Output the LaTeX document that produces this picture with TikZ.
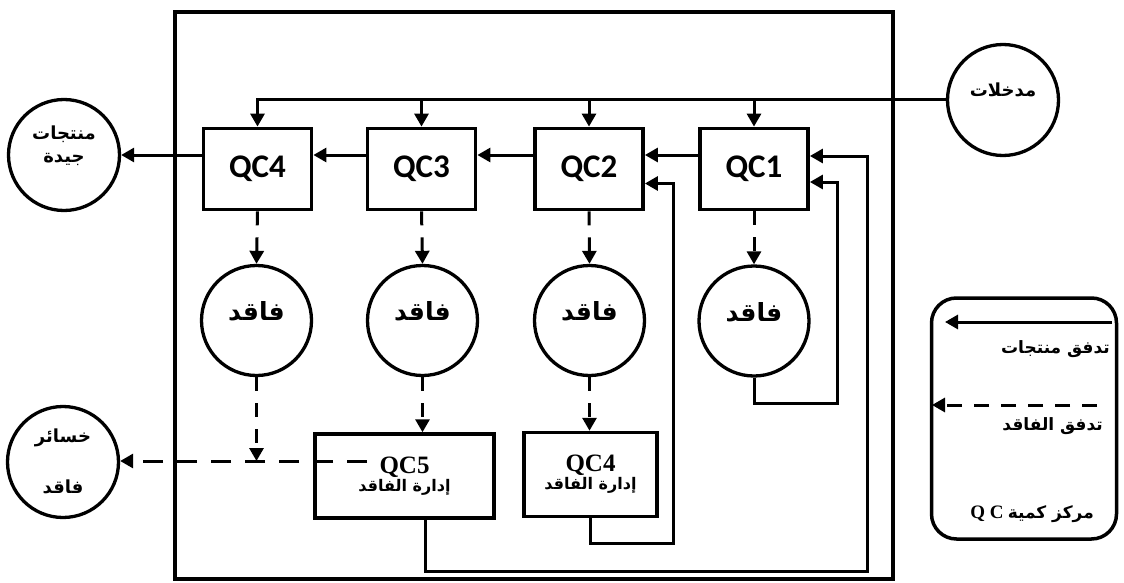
\documentclass[tikz,border=0pt]{standalone}
\usepackage{fontspec}
\setmainfont{Liberation Serif}
\newfontfamily\arabfont[Script=Arabic]{DejaVu Sans}
\newfontfamily\calibfont{Carlito}
\TeXXeTstate=1
\usetikzlibrary{arrows.meta}
\newcommand\artxt[1]{{\arabfont\bfseries\beginR #1\endR}}
\tikzset{
  qcbox/.style={draw, line width=3.8pt, minimum width=108pt, minimum height=81pt, inner sep=0pt,
    font=\calibfont\bfseries\fontsize{33}{33}\selectfont},
  faqc/.style={draw, circle, line width=3.3pt, minimum size=110pt, inner sep=0pt},
  bigc/.style={draw, circle, line width=3.3pt, minimum size=111pt, inner sep=0pt},
  mgbox/.style={draw, line width=3.5pt, minimum height=84pt, inner sep=0pt, align=center,
    font=\bfseries},
  ftxt/.style={inner sep=0pt, font=\fontsize{25}{25}\selectfont},
  ctxt/.style={inner sep=0pt, font=\fontsize{18}{18}\selectfont},
  ltxt/.style={inner sep=0pt, anchor=east, font=\fontsize{17}{17}\selectfont},
  conn/.style={line width=3pt},
  arr/.style={line width=3pt, -{Triangle[length=13pt,width=14pt]}},
  darr/.style={line width=3pt, dash pattern=on 14pt off 12pt, -{Triangle[length=13pt,width=14pt]}},
  hdarr/.style={line width=3pt, dash pattern=on 20pt off 14pt, -{Triangle[length=13pt,width=14pt]}},
  ldarr/.style={line width=3pt, dash pattern=on 15pt off 12pt, -{Triangle[length=13pt,width=14pt]}},
}
\begin{document}
\begin{tikzpicture}[x=1pt,y=-1pt]
\useasboundingbox (0,0) rectangle (1124,583);

% outer frame
\node[draw, line width=4.5pt, minimum width=718pt, minimum height=567pt, inner sep=0pt] (frame) at (534,295.5) {};

% QC boxes
\node[qcbox] (qc1) at (754,169) {QC1};
\node[qcbox] (qc2) at (589,169) {QC2};
\node[qcbox] (qc3) at (421.5,169) {QC3};
\node[qcbox] (qc4) at (257.5,169) {QC4};

% loss circles
\node[faqc] (f1) at (754,321) {};
\node[faqc] (f2) at (589.5,320.5) {};
\node[faqc] (f3) at (422.5,320.5) {};
\node[faqc] (f4) at (256.5,320.5) {};
\node[ftxt] (t1) at ([yshift=9pt]f1.center) {\artxt{فاقد}};
\node[ftxt] (t2) at ([yshift=9pt]f2.center) {\artxt{فاقد}};
\node[ftxt] (t3) at ([yshift=9pt]f3.center) {\artxt{فاقد}};
\node[ftxt] (t4) at ([yshift=9pt]f4.center) {\artxt{فاقد}};

% management boxes
\node[mgbox, minimum width=179pt] (mg5) at (404.5,476)
  {{\fontsize{25}{26}\selectfont QC5}\\[1pt]{\fontsize{16}{18}\selectfont\artxt{إدارة الفاقد}}};
\node[mgbox, minimum width=133pt] (mg4) at (590.5,474.5)
  {{\fontsize{25}{26}\selectfont QC4}\\[1pt]{\fontsize{16}{18}\selectfont\artxt{إدارة الفاقد}}};

% outer circles
\node[bigc] (in) at (1003,100) {};
\node[ctxt] (intxt) at ([yshift=10pt]in.center) {\artxt{مدخلات}};
\node[bigc] (good) at (64,155) {};
\node[ctxt, align=center] (goodtxt) at ([yshift=9pt]good.center)
  {\artxt{منتجات}\\[5pt]\artxt{جيدة}};
\node[bigc] (loss) at (63,462) {};
\node[ctxt] (losst1) at (63,438) {\artxt{خسائر}};
\node[ctxt] (losst2) at (63,487) {\artxt{فاقد}};

% inputs
\draw[arr] (in.west) -| (qc4.north);
\foreach \q in {qc1,qc2,qc3} \draw[arr] (\q.north |- in.west) -- (\q.north);

% product flow
\draw[arr] ([yshift=14pt]qc1.west) -- ([yshift=14pt]qc2.east);
\draw[arr] ([yshift=14pt]qc2.west) -- ([yshift=14pt]qc3.east);
\draw[arr] ([yshift=14pt]qc3.west) -- ([yshift=14pt]qc4.east);
\draw[arr] (qc4.west |- good.east) -- (good.east);

% loss flow
\draw[darr] (qc1.south) -- (f1.north);
\draw[darr] (qc2.south) -- (f2.north);
\draw[darr] (qc3.south) -- (f3.north);
\draw[darr] (qc4.south) -- (f4.north);
\draw[darr] (f3.south) -- (f3.south |- mg5.north);
\draw[darr] (f2.south) -- (f2.south |- mg4.north);
\coordinate (dl) at (367,461);
\draw[darr] (f4.south) -- (f4.south |- dl);
\draw[hdarr] (dl) -- (loss.east |- dl);

% feedback loops
\draw[arr] ([xshift=21pt]mg5.south) |- (867,571) |- ([yshift=13pt]qc1.east);
\draw[arr] (f1.south) |- (837,403) |- ([yshift=-13pt]qc1.east);
\draw[arr] (mg4.south) |- (673,543) |- ([yshift=-14.5pt]qc2.east);

% legend
\node[draw, rounded corners=25pt, line width=3.5pt, minimum width=185pt, minimum height=241pt, inner sep=0pt] (leg) at (1024,418.5) {};
\coordinate (l1s) at (1112,322);
\coordinate (l1e) at (945,322);
\draw[arr] (l1s) -- (l1e);
\node[ltxt] (lt1) at (1110,349) {\artxt{تدفق منتجات}};
\coordinate (l2s) at (1097,405);
\coordinate (l2e) at (932,405);
\draw[ldarr] (l2s) -- (l2e);
\node[ltxt] (lt2) at (1103,426) {\artxt{تدفق الفاقد}};
\node[ltxt] (lt3) at (1094,514) {{\fontsize{19}{19}\selectfont\bfseries Q C}\ \artxt{مركز كمية}};
\end{tikzpicture}
\end{document}
